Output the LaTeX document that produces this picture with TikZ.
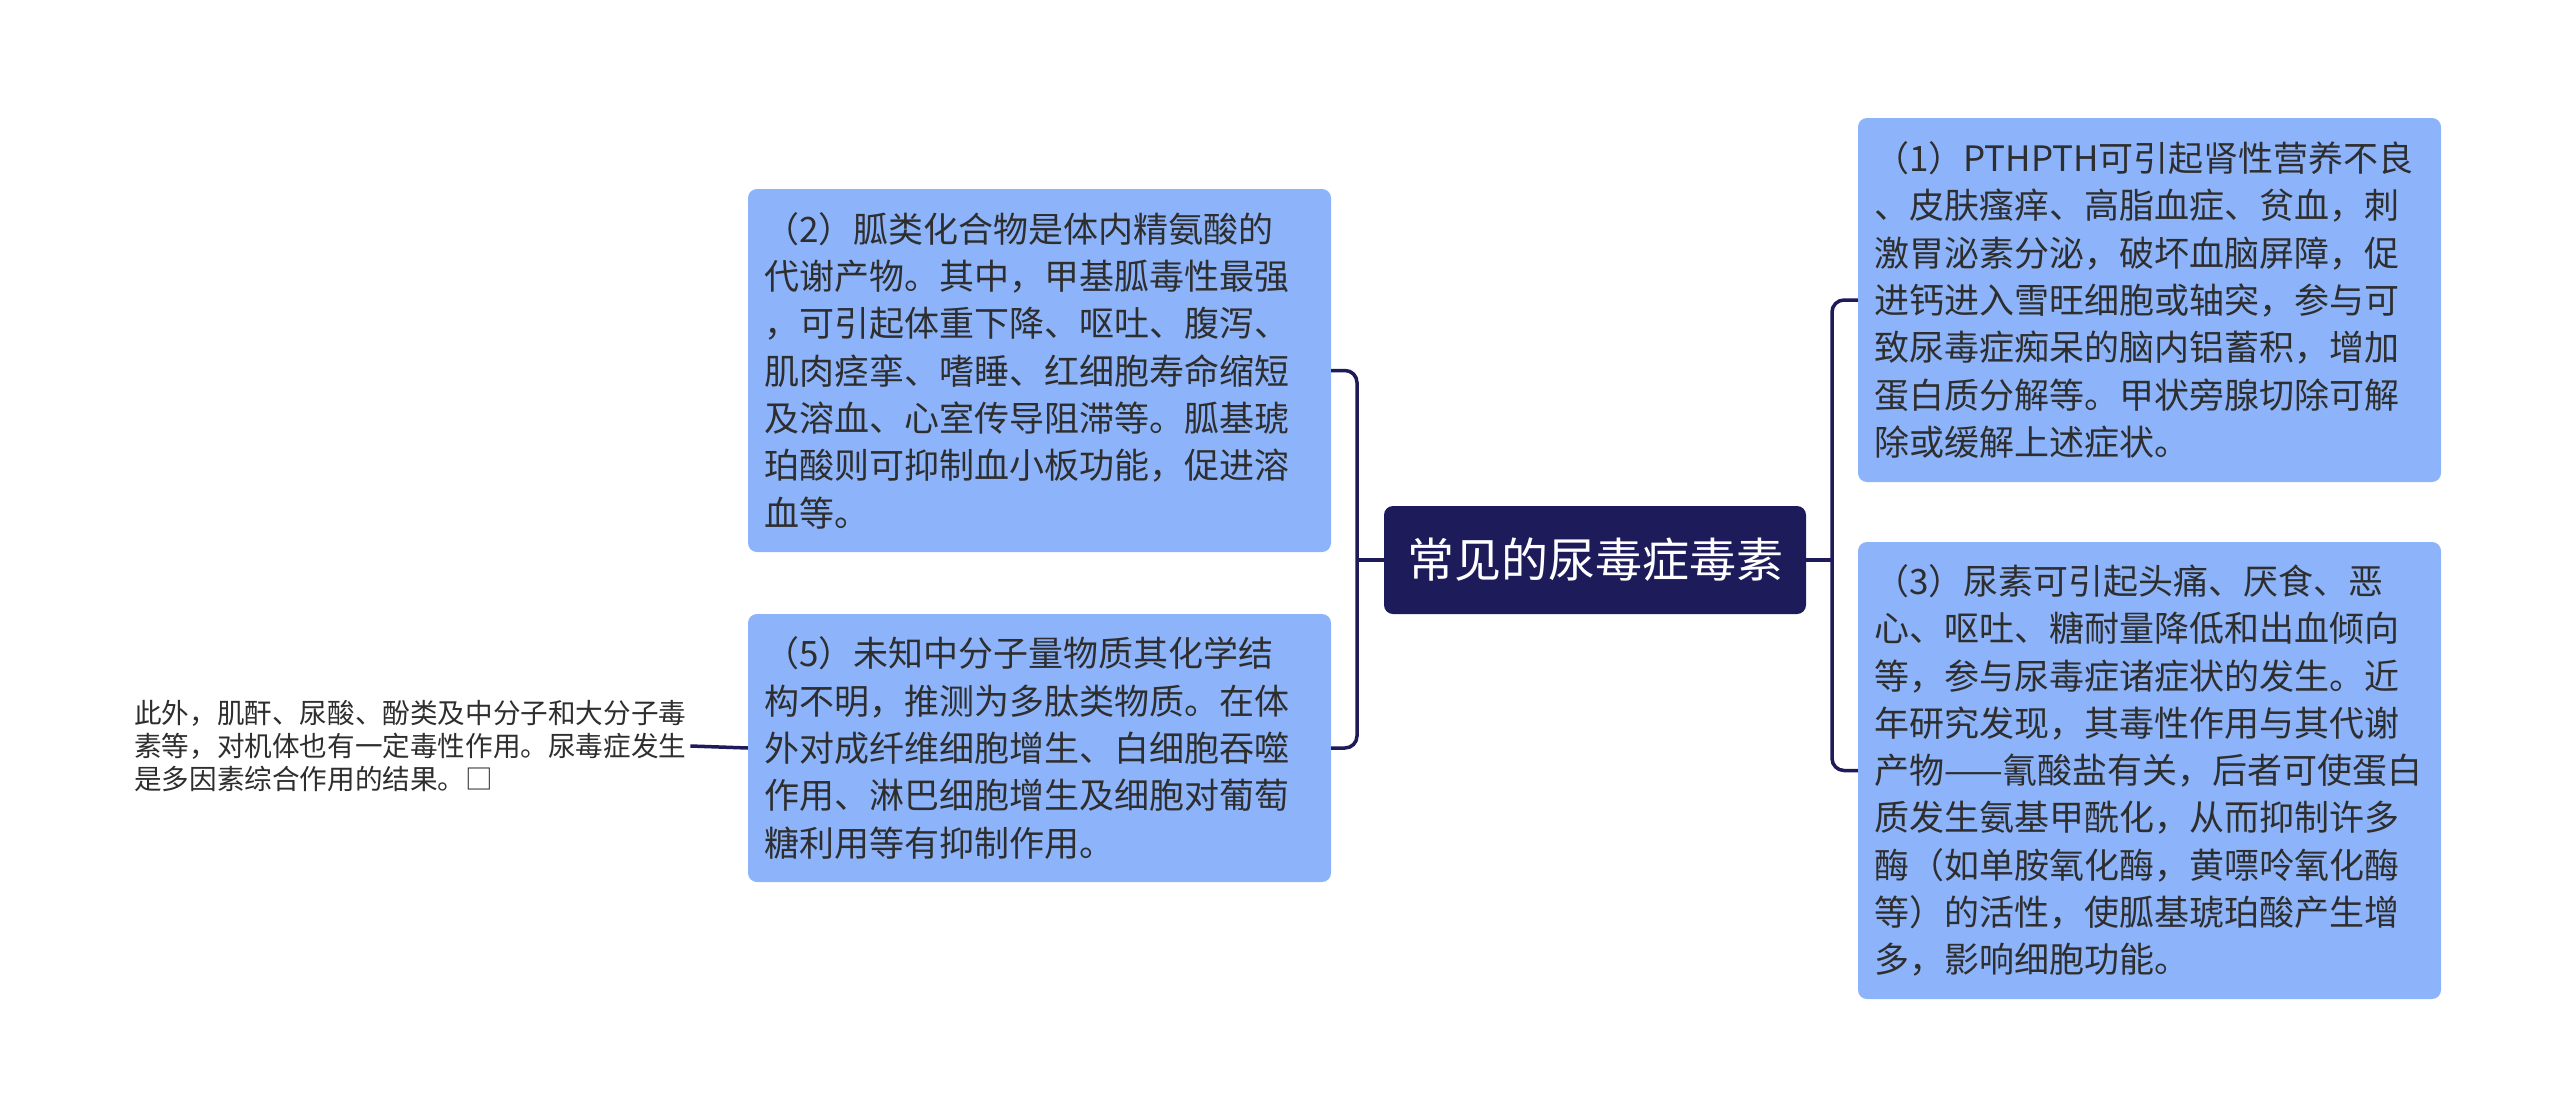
\documentclass[tikz,border=0pt]{standalone}
\usepackage{fontspec}
\setmainfont{Noto Sans CJK SC}
\definecolor{navy}{HTML}{1E1B5A}
\definecolor{leaf}{HTML}{8DB4FB}
\definecolor{ink}{HTML}{2E2E2E}
\begin{document}
\begin{tikzpicture}[x=1pt,y=-1pt,
  leafbox/.style={rectangle, rounded corners=9pt, fill=leaf, text=ink, align=left,
    inner xsep=16pt, inner ysep=0pt, text width=551pt, minimum height=#1,
    font=\fontsize{35}{47.3}\selectfont},
  rootbox/.style={rectangle, rounded corners=9pt, fill=navy, text=white,
    minimum width=422pt, minimum height=108pt, inner sep=0pt},
  plaintext/.style={text=ink, align=left, text width=552pt, inner xsep=4pt, inner ysep=0pt,
    font=\fontsize{27.6}{33}\selectfont},
  conn/.style={draw=navy, line width=3.5pt, rounded corners=12pt}]
\fill[white] (0,0) rectangle (2560,1119);
\useasboundingbox (0,0) rectangle (2560,1119);

\node[rootbox] (root) at (1595,560) {\fontsize{47}{52}\selectfont 常见的尿毒症毒素};

\node[leafbox=363pt] (b2) at (1039.5,370.5) {（2）胍类化合物是体内精氨酸的\\代谢产物。其中，甲基胍毒性最强\\，可引起体重下降、呕吐、腹泻、\\肌肉痉挛、嗜睡、红细胞寿命缩短\\及溶血、心室传导阻滞等。胍基琥\\珀酸则可抑制血小板功能，促进溶\\血等。};

\node[leafbox=268pt] (b5) at (1039.5,748) {（5）未知中分子量物质其化学结\\构不明，推测为多肽类物质。在体\\外对成纤维细胞增生、白细胞吞噬\\作用、淋巴细胞增生及细胞对葡萄\\糖利用等有抑制作用。};

\node[leafbox=364pt] (b1) at (2149.5,300) {（1）PTHPTH可引起肾性营养不良\\、皮肤瘙痒、高脂血症、贫血，刺\\激胃泌素分泌，破坏血脑屏障，促\\进钙进入雪旺细胞或轴突，参与可\\致尿毒症痴呆的脑内铝蓄积，增加\\蛋白质分解等。甲状旁腺切除可解\\除或缓解上述症状。};

\node[leafbox=457pt] (b3) at (2149.5,770.5) {（3）尿素可引起头痛、厌食、恶\\心、呕吐、糖耐量降低和出血倾向\\等，参与尿毒症诸症状的发生。近\\年研究发现，其毒性作用与其代谢\\\mbox{产物——氰酸盐有关，后者可使蛋白}\\质发生氨基甲酰化，从而抑制许多\\酶（如单胺氧化酶，黄嘌呤氧化酶\\等）的活性，使胍基琥珀酸产生增\\多，影响细胞功能。};

\node[plaintext, anchor=west] (lt) at (130,746) {此外，肌酐、尿酸、酚类及中分子和大分子毒\\素等，对机体也有一定毒性作用。尿毒症发生\\是多因素综合作用的结果。□};

\coordinate (jl) at (1357,560);
\coordinate (jr) at (1832,560);
\draw[conn] (root.west) -- (jl);
\draw[conn] (b2.east) -| (jl) |- (b5.east);
\draw[conn] (root.east) -- (jr);
\draw[conn] (b1.west) -| (jr) |- (b3.west);
\draw[conn] (lt.east) -- (b5.west);
\end{tikzpicture}
\end{document}
